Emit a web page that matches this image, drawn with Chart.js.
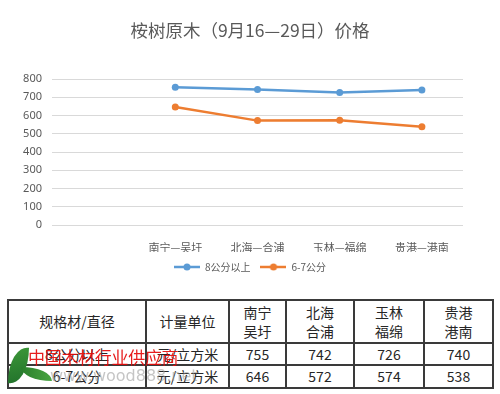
<!DOCTYPE html>
<html><head><meta charset="utf-8">
<script src="https://cdn.jsdelivr.net/npm/chart.js@4"></script>
<style>
html,body{margin:0;padding:0;background:#fff;}
body{width:500px;height:394px;overflow:hidden;position:relative;font-family:"Noto Sans CJK SC","Noto Sans",sans-serif;}
#wrap{position:absolute;left:0;top:0;width:500px;height:290px;}
#tbl{position:absolute;left:7px;top:299px;border-collapse:collapse;table-layout:fixed;}
#tbl td{border:2px solid #3a3a3a;text-align:center;vertical-align:middle;font-size:14px;color:#262626;padding:0;line-height:19px;white-space:nowrap;overflow:hidden;}
#wm{position:absolute;left:0;top:0;width:500px;height:394px;pointer-events:none;}
.leaf{position:absolute;}
#wmText{position:absolute;left:28px;top:344px;font-size:17px;color:rgba(228,10,10,0.92);letter-spacing:-0.3px;white-space:nowrap;}
#wmUrl{position:absolute;left:50px;top:366px;font-size:16px;font-family:"DejaVu Sans",sans-serif;color:rgba(150,150,150,0.55);white-space:nowrap;}
</style></head>
<body>
<div id="wrap"><canvas id="c" width="500" height="290"></canvas></div>
<table id="tbl"></table>
<div id="wm">
  <div class="leaf" style="left:8px;top:346px;width:21px;height:39px;background:linear-gradient(160deg,#3f9b3a,#1f6e2a);border-radius:100% 0 100% 0;transform:skewY(10deg);"></div>
  <div class="leaf" style="left:21px;top:367px;width:31px;height:14px;background:linear-gradient(90deg,#2a7f2c,#48a440);border-radius:0 100% 0 100%;"></div>
  <div id="wmUrl">www.wood888.net</div>
  <div id="wmText">中国木材行业供应商</div>
</div>
<script>
const titleText = "桉树原木（9月16—29日）价格";
const cities = ["南宁—吴圩", "北海—合浦", "玉林—福绵", "贵港—港南"];
const seriesNames = ["8公分以上", "6-7公分"];
const seriesBig = [755, 742, 726, 740];
const seriesSmall = [646, 572, 574, 538];
const yTickValues = [0, 100, 200, 300, 400, 500, 600, 700, 800];
const tableHeaders = ["规格材/直径", "计量单位"];
const unitText = "元/立方米";
const colors = ["#5b9bd5", "#ed7d31"];

// chart categories: an empty leading slot as in the original spreadsheet chart
const chartLabels = [""].concat(cities);
const chartBig = [null].concat(seriesBig);
const chartSmall = [null].concat(seriesSmall);

function legendIcon(color) {
  const cv = document.createElement('canvas');
  cv.width = 26; cv.height = 8;
  const g = cv.getContext('2d');
  g.strokeStyle = color; g.lineWidth = 2.5;
  g.beginPath(); g.moveTo(0, 4); g.lineTo(26, 4); g.stroke();
  g.fillStyle = color;
  g.beginPath(); g.arc(13, 4, 3.5, 0, Math.PI * 2); g.fill();
  return cv;
}
const icons = colors.map(legendIcon);

new Chart(document.getElementById('c'), {
  type: 'line',
  data: {
    labels: chartLabels,
    datasets: [
      {label: seriesNames[0], data: chartBig, borderColor: colors[0], backgroundColor: colors[0],
       borderWidth: 2.5, pointRadius: 3.5, pointBorderWidth: 0, tension: 0, yAxisID: 'y'},
      {label: seriesNames[1], data: chartSmall, borderColor: colors[1], backgroundColor: colors[1],
       borderWidth: 2.5, pointRadius: 3.5, pointBorderWidth: 0, tension: 0, yAxisID: 'y'}
    ]
  },
  options: {
    responsive: false,
    animation: false,
    layout: {padding: {left: 0, right: 0, top: 0, bottom: 8}},
    plugins: {
      title: {display: true, text: titleText, color: '#595959',
        font: {family: '"Noto Sans CJK SC"', size: 17.5, weight: 'normal'},
        padding: {top: 19.5, bottom: 38.5}},
      legend: {position: 'bottom',
        labels: {usePointStyle: true, pointStyleWidth: 26, padding: 10, color: '#595959',
          font: {family: '"Noto Sans CJK SC"', size: 10},
          generateLabels: (chart) => Chart.defaults.plugins.legend.labels.generateLabels(chart)
            .map((it, i) => Object.assign(it, {pointStyle: icons[i]}))}},
      tooltip: {enabled: false}
    },
    scales: {
      x: {
        offset: true,
        grid: {display: false}, border: {display: false},
        ticks: {color: '#595959', font: {family: '"Noto Sans CJK SC"', size: 11}, padding: 8,
          autoSkip: false, maxRotation: 0},
        afterFit: (s) => { s.height = 27; }
      },
      y: {
        min: 0, max: 800,
        afterBuildTicks: (s) => { s.ticks = yTickValues.map(v => ({value: v})); },
        grid: {color: '#d9d9d9', lineWidth: 1, drawTicks: false}, border: {display: false},
        ticks: {color: '#595959', font: {family: '"Noto Sans"', size: 11}, padding: 10},
        afterFit: (s) => { s.width = 52; }
      },
      yRight: {
        position: 'right', min: 0, max: 800,
        grid: {display: false}, border: {display: false}, ticks: {display: false},
        afterFit: (s) => { s.width = 37; }
      }
    }
  }
});

// table built from the same arrays
const colWidths = [138, 83, 57, 68, 70, 69];
const tbl = document.getElementById('tbl');
const cg = document.createElement('colgroup');
colWidths.forEach(w => { const c = document.createElement('col'); c.style.width = w + 'px'; cg.appendChild(c); });
tbl.appendChild(cg);
function row(cells, h) {
  const tr = document.createElement('tr');
  tr.style.height = h + 'px';
  cells.forEach(t => { const td = document.createElement('td'); td.innerHTML = t; tr.appendChild(td); });
  tbl.appendChild(tr);
}
row(tableHeaders.concat(cities.map(c => c.split('—').join('<br>'))), 43);
row([seriesNames[0], unitText].concat(seriesBig.map(String)), 22);
row([seriesNames[1], unitText].concat(seriesSmall.map(String)), 23);
</script>
</body></html>
